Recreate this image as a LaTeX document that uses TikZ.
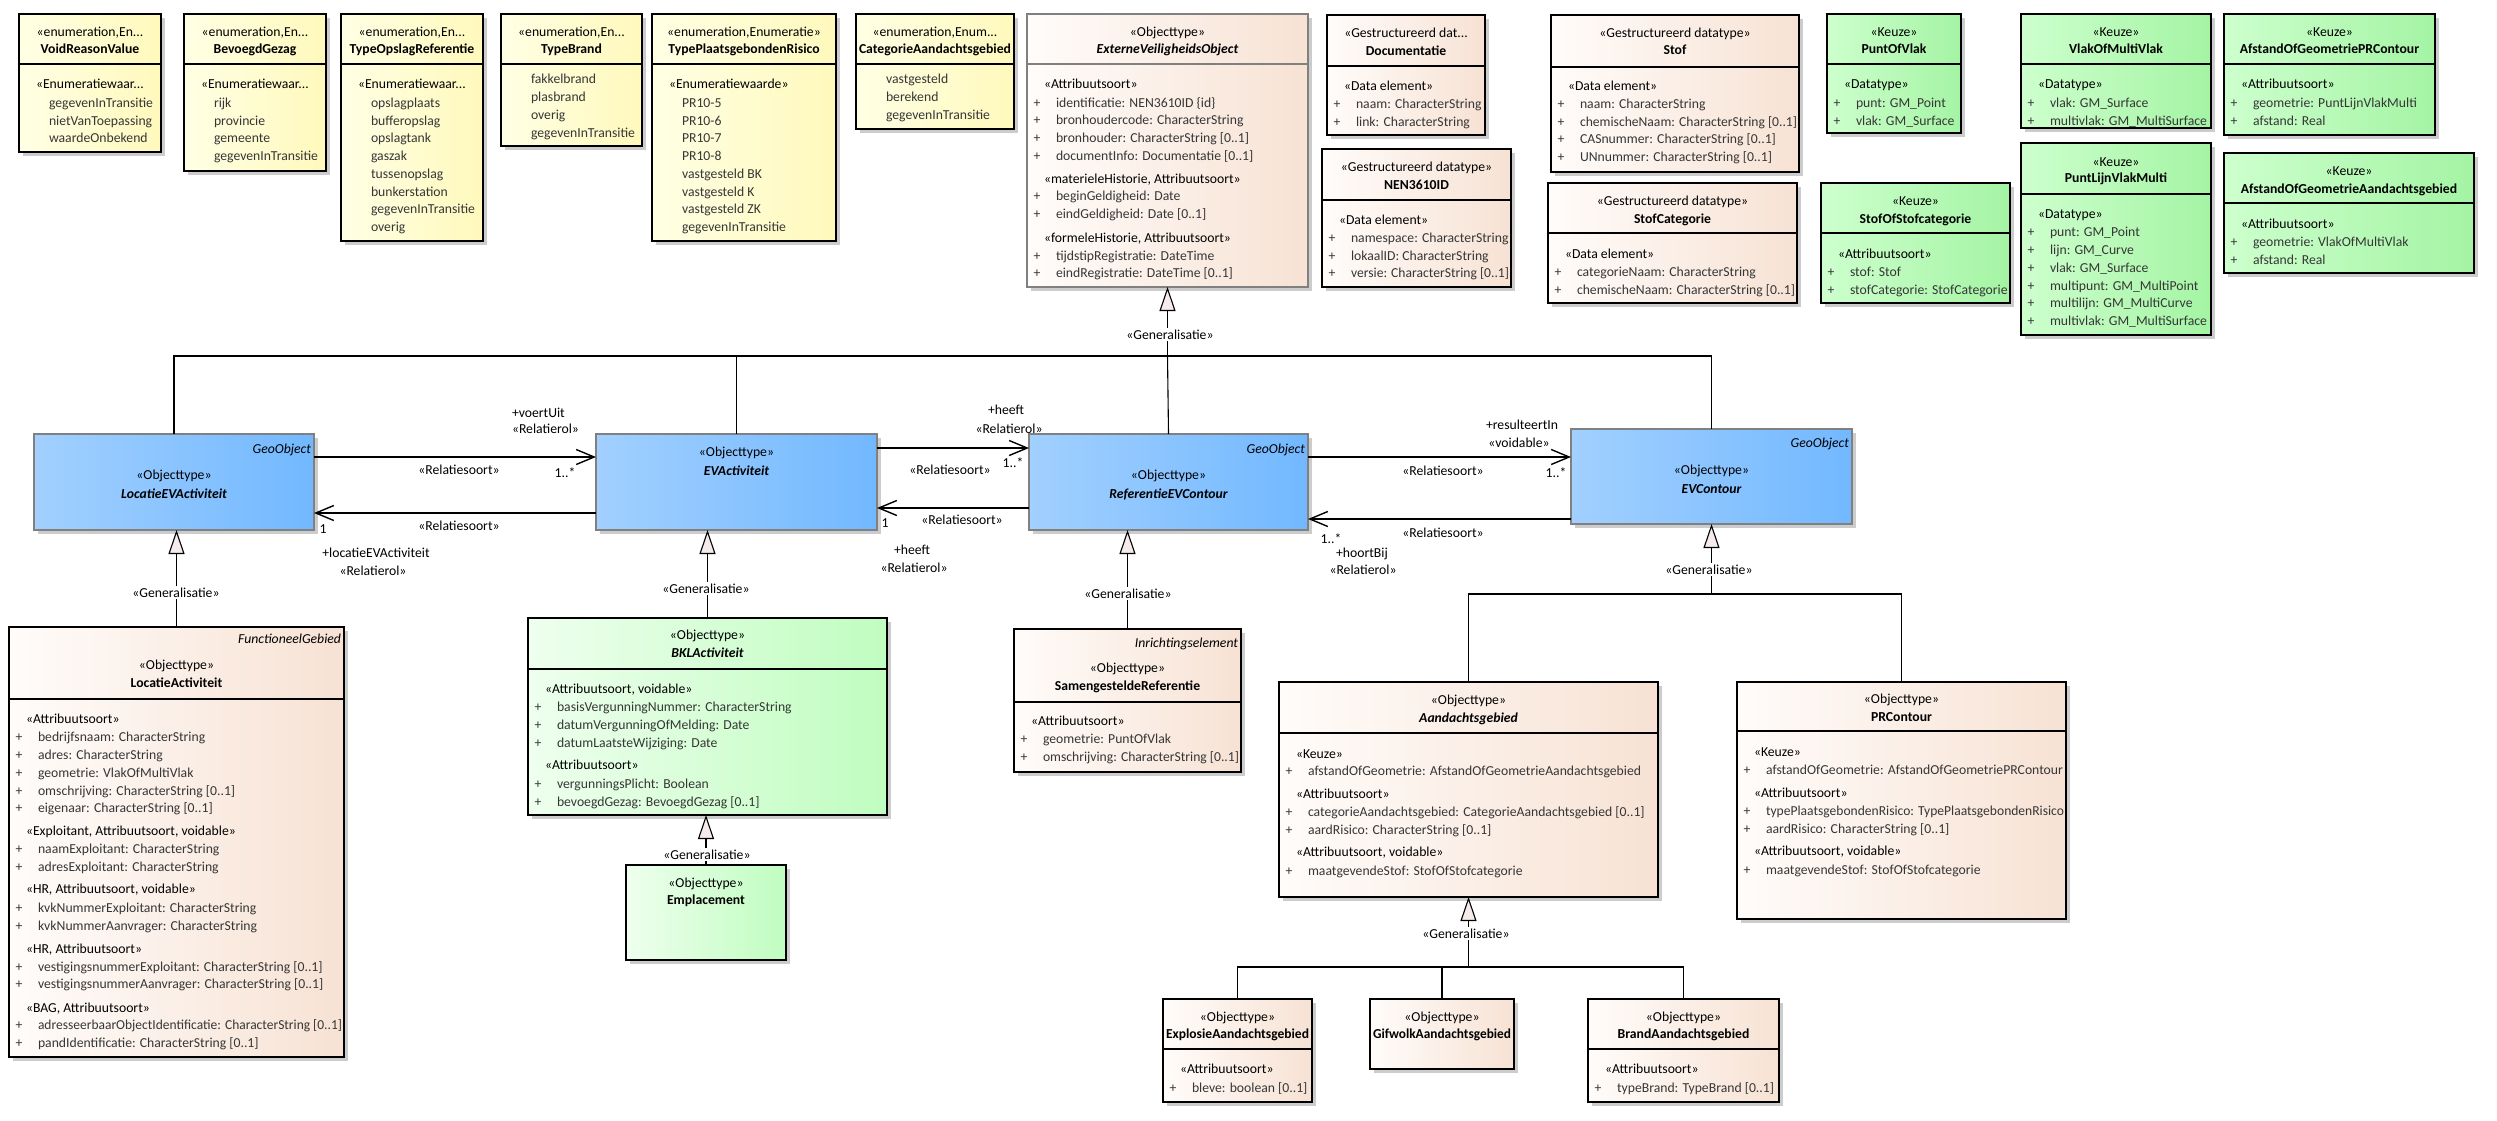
\documentclass[tikz,border=0pt]{standalone}
\usepackage{fontspec}
\setmainfont{Carlito}
\usepackage{graphicx}
\usetikzlibrary{arrows.meta,shadows}
\definecolor{enumL}{HTML}{FFFFE4}
\definecolor{enumR}{HTML}{FFF9BC}
\definecolor{dtL}{HTML}{FFFCFA}
\definecolor{dtR}{HTML}{F7E2D4}
\definecolor{keuL}{HTML}{CDFFCD}
\definecolor{keuR}{HTML}{A4F4A4}
\definecolor{bklL}{HTML}{EEFFEE}
\definecolor{bklR}{HTML}{C0FDC0}
\definecolor{bluL}{HTML}{A2D0FF}
\definecolor{bluR}{HTML}{72B8FF}
\definecolor{genfill}{HTML}{F5EBEB}
\definecolor{attrc}{HTML}{363636}
\newcommand\ufs{\fontsize{13.7}{16}\selectfont}
\newcounter{tn}
\newsavebox\ufitbox
\newcommand\ufit[2]{\sbox\ufitbox{#2}\ifdim\wd\ufitbox>#1\relax\resizebox{#1}{\height}{\usebox\ufitbox}\else\usebox\ufitbox\fi}
\newcommand\ubox[6]{\gdef\ubl{#3}\gdef\ubr{#5}%
  \pgfmathsetlengthmacro\uwid{#5-#3}\pgfmathsetlengthmacro\uhgt{#6-#4}%
  \node[#2, anchor=north west, minimum width=\uwid, minimum height=\uhgt] (#1) at (#3,#4) {};}
\newcommand\uhd[3][]{\pgfmathsetlengthmacro\uwmax{\ubr-\ubl-6}%
  \stepcounter{tn}\node[stx, anchor=base] (n\arabic{tn}) at ({(\ubl+\ubr)/2},#2+5) {\ufit{\uwmax}{#1#3}};}
\newcommand\utg[2]{\stepcounter{tn}\node[stx, anchor=base east] (n\arabic{tn}) at (\ubr-3,#1+5) {\itshape #2};}
\newcommand\ust[2]{\pgfmathsetlengthmacro\uwmax{\ubr-\ubl-19}%
  \stepcounter{tn}\node[stx, anchor=base west] (n\arabic{tn}) at (\ubl+17,#1+5) {\ufit{\uwmax}{#2}};}
\newcommand\uat[2]{\pgfmathsetlengthmacro\uwmax{\ubr-\ubl-31}%
  \stepcounter{tn}\node[atx, anchor=base] (n\arabic{tn}) at (\ubl+10,#1+5) {+};%
  \stepcounter{tn}\node[atx, anchor=base west] (n\arabic{tn}) at (\ubl+29,#1+5) {\ufit{\uwmax}{#2}};}
\newcommand\uit[2]{\pgfmathsetlengthmacro\uwmax{\ubr-\ubl-32}%
  \stepcounter{tn}\node[atx, anchor=base west] (n\arabic{tn}) at (\ubl+30,#1+5) {\ufit{\uwmax}{#2}};}
\newcommand\udv[2][black]{\draw[draw=#1, line width=1.5pt] (\ubl,#2) -- (\ubr,#2);}
\newcommand\ulb[4][]{\stepcounter{tn}\node[stx, anchor=base, #1] (n\arabic{tn}) at (#2,#3+5) {#4};}
\begin{document}
\begin{tikzpicture}[x=1pt, y=-1pt,
 ubase/.style={draw=black, line width=1.5pt, inner sep=0pt, outer sep=0pt,
   drop shadow={shadow xshift=4pt, shadow yshift=-4pt, fill=black!20, opacity=1}},
 enumbox/.style={ubase, left color=enumL, right color=enumR},
 dtbox/.style={ubase, left color=dtL, right color=dtR},
 absbox/.style={dtbox, draw=black!50},
 keuzebox/.style={ubase, left color=keuL, right color=keuR},
 bklbox/.style={ubase, left color=bklL, right color=bklR},
 bluebox/.style={ubase, draw=black!50, left color=bluL, right color=bluR},
 stx/.style={inner sep=0pt, outer sep=0pt, font=\ufs, text=black},
 atx/.style={stx, text=attrc},
 glab/.style={fill=white, inner sep=1.5pt},
 assoc/.style={line width=1.4pt, -{Straight Barb[length=18pt,width=15pt]}},
 gen/.style={line width=1.1pt, -{Triangle[length=24pt,width=16pt,fill=genfill]}},
 genl/.style={line width=1.1pt}]
\useasboundingbox[fill=white] (0,0) rectangle (2497,1120);

% ---------- enumerations ----------
\ubox{vrv}{enumbox}{19}{14}{161}{152}
\uhd{31}{«enumeration,En...}\uhd[\bfseries]{48}{VoidReasonValue}\udv{64}
\ust{83}{«Enumeratiewaar...}
\uit{102}{gegevenInTransitie}\uit{120}{nietVanToepassing}\uit{137}{waardeOnbekend}

\ubox{bg}{enumbox}{184}{14}{326}{171}
\uhd{31}{«enumeration,En...}\uhd[\bfseries]{48}{BevoegdGezag}\udv{64}
\ust{83}{«Enumeratiewaar...}
\uit{102}{rijk}\uit{120}{provincie}\uit{137}{gemeente}\uit{155}{gegevenInTransitie}

\ubox{tor}{enumbox}{341}{14}{483}{241}
\uhd{31}{«enumeration,En...}\uhd[\bfseries]{48}{TypeOpslagReferentie}\udv{64}
\ust{83}{«Enumeratiewaar...}
\uit{102}{opslagplaats}\uit{120}{bufferopslag}\uit{137}{opslagtank}\uit{155}{gaszak}
\uit{173}{tussenopslag}\uit{191}{bunkerstation}\uit{208}{gegevenInTransitie}\uit{226}{overig}

\ubox{tb}{enumbox}{501}{14}{642}{146}
\uhd{31}{«enumeration,En...}\uhd[\bfseries]{48}{TypeBrand}\udv{64}
\uit{78}{fakkelbrand}\uit{96}{plasbrand}\uit{114}{overig}\uit{132}{gegevenInTransitie}

\ubox{tpr}{enumbox}{652}{14}{836}{241}
\uhd{31}{«enumeration,Enumeratie»}\uhd[\bfseries]{48}{TypePlaatsgebondenRisico}\udv{64}
\ust{83}{«Enumeratiewaarde»}
\uit{102}{PR10-5}\uit{120}{PR10-6}\uit{137}{PR10-7}\uit{155}{PR10-8}
\uit{173}{vastgesteld BK}\uit{191}{vastgesteld K}\uit{208}{vastgesteld ZK}\uit{226}{gegevenInTransitie}

\ubox{cag}{enumbox}{856}{14}{1014}{129}
\uhd{31}{«enumeration,Enum...}\uhd[\bfseries]{48}{CategorieAandachtsgebied}\udv{64}
\uit{78}{vastgesteld}\uit{96}{berekend}\uit{114}{gegevenInTransitie}

% ---------- ExterneVeiligheidsObject ----------
\ubox{evo}{absbox}{1027}{14}{1308}{287}
\uhd{31}{«Objecttype»}\uhd[\bfseries\itshape]{48}{ExterneVeiligheidsObject}\udv[black!50]{64}
\ust{83}{«Attribuutsoort»}
\uat{102}{identificatie: NEN3610ID \{id\}}
\uat{119}{bronhoudercode: CharacterString}
\uat{137}{bronhouder: CharacterString [0..1]}
\uat{155}{documentInfo: Documentatie [0..1]}
\ust{178}{«materieleHistorie, Attribuutsoort»}
\uat{195}{beginGeldigheid: Date}
\uat{213}{eindGeldigheid: Date [0..1]}
\ust{237}{«formeleHistorie, Attribuutsoort»}
\uat{255}{tijdstipRegistratie: DateTime}
\uat{272}{eindRegistratie: DateTime [0..1]}

% ---------- datatypes ----------
\ubox{doc}{dtbox}{1327}{15}{1485}{135}
\uhd{32}{«Gestructureerd dat...}\uhd[\bfseries]{50}{Documentatie}\udv{66}
\ust{85}{«Data element»}
\uat{103}{naam: CharacterString}\uat{121}{link: CharacterString}

\ubox{nen}{dtbox}{1322}{149}{1511}{287}
\uhd{166}{«Gestructureerd datatype»}\uhd[\bfseries]{184}{NEN3610ID}\udv{200}
\ust{219}{«Data element»}
\uat{237}{namespace: CharacterString}\uat{255}{lokaalID: CharacterString}\uat{272}{versie: CharacterString [0..1]}

\ubox{stof}{dtbox}{1551}{15}{1799}{172}
\uhd{32}{«Gestructureerd datatype»}\uhd[\bfseries]{49}{Stof}\udv{67}
\ust{85}{«Data element»}
\uat{103}{naam: CharacterString}\uat{121}{chemischeNaam: CharacterString [0..1]}
\uat{138}{CASnummer: CharacterString [0..1]}\uat{156}{UNnummer: CharacterString [0..1]}

\ubox{stofcat}{dtbox}{1548}{183}{1797}{303}
\uhd{200}{«Gestructureerd datatype»}\uhd[\bfseries]{218}{StofCategorie}\udv{233}
\ust{253}{«Data element»}
\uat{271}{categorieNaam: CharacterString}\uat{289}{chemischeNaam: CharacterString [0..1]}

% ---------- keuze ----------
\ubox{pov}{keuzebox}{1827}{14}{1961}{133}
\uhd{31}{«Keuze»}\uhd[\bfseries]{48}{PuntOfVlak}\udv{64}
\ust{83}{«Datatype»}\uat{102}{punt: GM\_Point}\uat{120}{vlak: GM\_Surface}

\ubox{vomv}{keuzebox}{2021}{14}{2211}{128}
\uhd{31}{«Keuze»}\uhd[\bfseries]{48}{VlakOfMultiVlak}\udv{64}
\ust{83}{«Datatype»}\uat{102}{vlak: GM\_Surface}\uat{120}{multivlak: GM\_MultiSurface}

\ubox{aogpr}{keuzebox}{2224}{14}{2435}{135}
\uhd{31}{«Keuze»}\uhd[\bfseries]{48}{AfstandOfGeometriePRContour}\udv{64}
\ust{83}{«Attribuutsoort»}\uat{102}{geometrie: PuntLijnVlakMulti}\uat{120}{afstand: Real}

\ubox{sos}{keuzebox}{1821}{183}{2010}{303}
\uhd{200}{«Keuze»}\uhd[\bfseries]{218}{StofOfStofcategorie}\udv{233}
\ust{253}{«Attribuutsoort»}\uat{271}{stof: Stof}\uat{289}{stofCategorie: StofCategorie}

\ubox{plvm}{keuzebox}{2021}{143}{2211}{335}
\uhd{161}{«Keuze»}\uhd[\bfseries]{177}{PuntLijnVlakMulti}\udv{194}
\ust{213}{«Datatype»}
\uat{231}{punt: GM\_Point}\uat{249}{lijn: GM\_Curve}\uat{267}{vlak: GM\_Surface}
\uat{285}{multipunt: GM\_MultiPoint}\uat{302}{multilijn: GM\_MultiCurve}\uat{320}{multivlak: GM\_MultiSurface}

\ubox{aoga}{keuzebox}{2224}{153}{2474}{273}
\uhd{170}{«Keuze»}\uhd[\bfseries]{188}{AfstandOfGeometrieAandachtsgebied}\udv{203}
\ust{223}{«Attribuutsoort»}\uat{241}{geometrie: VlakOfMultiVlak}\uat{259}{afstand: Real}

% ---------- blue object types ----------
\ubox{locev}{bluebox}{34}{434}{314}{530}
\utg{448}{GeoObject}\uhd{474}{«Objecttype»}\uhd[\bfseries\itshape]{493}{LocatieEVActiviteit}

\ubox{evact}{bluebox}{596}{434}{877}{530}
\uhd{451}{«Objecttype»}\uhd[\bfseries\itshape]{470}{EVActiviteit}

\ubox{refev}{bluebox}{1029}{434}{1308}{530}
\utg{448}{GeoObject}\uhd{474}{«Objecttype»}\uhd[\bfseries\itshape]{493}{ReferentieEVContour}

\ubox{evc}{bluebox}{1571}{429}{1852}{524}
\utg{442}{GeoObject}\uhd{469}{«Objecttype»}\uhd[\bfseries\itshape]{488}{EVContour}

% ---------- LocatieActiviteit ----------
\ubox{locact}{dtbox}{9}{627}{344}{1057}
\utg{638}{FunctioneelGebied}\uhd{664}{«Objecttype»}\uhd[\bfseries]{682}{LocatieActiviteit}\udv{699}
\ust{718}{«Attribuutsoort»}
\uat{736}{bedrijfsnaam: CharacterString}
\uat{754}{adres: CharacterString}
\uat{772}{geometrie: VlakOfMultiVlak}
\uat{790}{omschrijving: CharacterString [0..1]}
\uat{807}{eigenaar: CharacterString [0..1]}
\ust{830}{«Exploitant, Attribuutsoort, voidable»}
\uat{848}{naamExploitant: CharacterString}
\uat{866}{adresExploitant: CharacterString}
\ust{888}{«HR, Attribuutsoort, voidable»}
\uat{907}{kvkNummerExploitant: CharacterString}
\uat{925}{kvkNummerAanvrager: CharacterString}
\ust{948}{«HR, Attribuutsoort»}
\uat{966}{vestigingsnummerExploitant: CharacterString [0..1]}
\uat{983}{vestigingsnummerAanvrager: CharacterString [0..1]}
\ust{1007}{«BAG, Attribuutsoort»}
\uat{1024}{adresseerbaarObjectIdentificatie: CharacterString [0..1]}
\uat{1042}{pandIdentificatie: CharacterString [0..1]}

% ---------- BKLActiviteit, Emplacement ----------
\ubox{bkl}{bklbox}{528}{618}{887}{815}
\uhd{634}{«Objecttype»}\uhd[\bfseries\itshape]{652}{BKLActiviteit}\udv{669}
\ust{688}{«Attribuutsoort, voidable»}
\uat{706}{basisVergunningNummer: CharacterString}
\uat{724}{datumVergunningOfMelding: Date}
\uat{742}{datumLaatsteWijziging: Date}
\ust{764}{«Attribuutsoort»}
\uat{783}{vergunningsPlicht: Boolean}
\uat{801}{bevoegdGezag: BevoegdGezag [0..1]}

\ubox{empl}{bklbox}{626}{865}{786}{960}
\uhd{882}{«Objecttype»}\uhd[\bfseries]{899}{Emplacement}

% ---------- SamengesteldeReferentie ----------
\ubox{samen}{dtbox}{1014}{629}{1241}{772}
\utg{642}{Inrichtingselement}\uhd{667}{«Objecttype»}\uhd[\bfseries]{685}{SamengesteldeReferentie}\udv{702}
\ust{720}{«Attribuutsoort»}
\uat{738}{geometrie: PuntOfVlak}\uat{756}{omschrijving: CharacterString [0..1]}

% ---------- Aandachtsgebied, PRContour ----------
\ubox{aand}{dtbox}{1279}{682}{1658}{897}
\uhd{699}{«Objecttype»}\uhd[\bfseries\itshape]{717}{Aandachtsgebied}\udv{733}
\ust{753}{«Keuze»}
\uat{770}{afstandOfGeometrie: AfstandOfGeometrieAandachtsgebied}
\ust{793}{«Attribuutsoort»}
\uat{811}{categorieAandachtsgebied: CategorieAandachtsgebied [0..1]}
\uat{829}{aardRisico: CharacterString [0..1]}
\ust{851}{«Attribuutsoort, voidable»}
\uat{870}{maatgevendeStof: StofOfStofcategorie}

\ubox{prc}{dtbox}{1737}{682}{2066}{919}
\uhd{698}{«Objecttype»}\uhd[\bfseries]{716}{PRContour}\udv{731}
\ust{751}{«Keuze»}
\uat{769}{afstandOfGeometrie: AfstandOfGeometriePRContour}
\ust{792}{«Attribuutsoort»}
\uat{810}{typePlaatsgebondenRisico: TypePlaatsgebondenRisico}
\uat{828}{aardRisico: CharacterString [0..1]}
\ust{850}{«Attribuutsoort, voidable»}
\uat{869}{maatgevendeStof: StofOfStofcategorie}

% ---------- subtypes of Aandachtsgebied ----------
\ubox{expl}{dtbox}{1163}{999}{1312}{1102}
\uhd{1016}{«Objecttype»}\uhd[\bfseries]{1033}{ExplosieAandachtsgebied}\udv{1049}
\ust{1068}{«Attribuutsoort»}\uat{1087}{bleve: boolean [0..1]}

\ubox{gif}{dtbox}{1370}{999}{1514}{1069}
\uhd{1016}{«Objecttype»}\uhd[\bfseries]{1033}{GifwolkAandachtsgebied}

\ubox{brand}{dtbox}{1588}{999}{1779}{1102}
\uhd{1016}{«Objecttype»}\uhd[\bfseries]{1033}{BrandAandachtsgebied}\udv{1049}
\ust{1068}{«Attribuutsoort»}\uat{1087}{typeBrand: TypeBrand [0..1]}

% ---------- generalisations ----------
\coordinate (j1) at (evo.south |- 0,356);
\draw[genl] (locev.north) |- (j1);
\draw[genl] (evact.north) |- (j1);
\draw[genl] (refev.north) -- (j1);
\draw[genl] (evc.north) |- (j1);
\draw[gen] (j1) -- (evo.south);
\ulb[glab]{1170}{334}{«Generalisatie»}

\draw[gen] (locact.north) -- (locact.north |- locev.south);
\ulb[glab]{176}{592}{«Generalisatie»}
\draw[gen] (bkl.north) -- (bkl.north |- evact.south);
\ulb[glab]{706}{588}{«Generalisatie»}
\draw[gen] (empl.north) -- (empl.north |- bkl.south);
\ulb[glab]{707}{854}{«Generalisatie»}
\draw[gen] (samen.north) -- (samen.north |- refev.south);
\ulb[glab]{1128}{593}{«Generalisatie»}

\coordinate (j2) at (evc.south |- 0,594);
\draw[genl] (aand.north) |- (j2);
\draw[genl] (prc.north) |- (j2);
\draw[gen] (j2) -- (evc.south);
\ulb[glab]{1709}{569}{«Generalisatie»}

\coordinate (j3) at (aand.south |- 0,967);
\draw[genl] (expl.north) |- (j3);
\draw[genl] (gif.north) |- (j3);
\draw[genl] (brand.north) |- (j3);
\draw[gen] (j3) -- (aand.south);
\ulb[glab]{1466}{933}{«Generalisatie»}

% ---------- associations ----------
\draw[assoc] ([yshift=-23pt]locev.north east) -- ([yshift=-23pt]evact.north west);
\ulb[anchor=base west]{512}{412}{+voertUit}
\ulb[anchor=base west]{512}{428}{«Relatierol»}
\ulb{459}{469}{«Relatiesoort»}
\ulb{565}{472}{1..*}

\draw[assoc] ([yshift=-79pt]evact.north west) -- ([yshift=-79pt]locev.north east);
\ulb{459}{525}{«Relatiesoort»}
\ulb{323}{528}{1}
\ulb{376}{552}{+locatieEVActiviteit}
\ulb{373}{570}{«Relatierol»}

\draw[assoc] ([yshift=-14pt]evact.north east) -- ([yshift=-14pt]refev.north west);
\ulb{1006}{409}{+heeft}
\ulb{1009}{428}{«Relatierol»}
\ulb{950}{469}{«Relatiesoort»}
\ulb{1013}{462}{1..*}

\draw[assoc] ([yshift=-74pt]refev.north west) -- ([yshift=-74pt]evact.north east);
\ulb{962}{519}{«Relatiesoort»}
\ulb{885}{522}{1}
\ulb{912}{549}{+heeft}
\ulb{914}{567}{«Relatierol»}

\draw[assoc] ([yshift=-23pt]refev.north east) -- ([yshift=-28pt]evc.north west);
\ulb{1522}{424}{+resulteertIn}
\ulb{1519}{442}{«voidable»}
\ulb{1443}{470}{«Relatiesoort»}
\ulb{1556}{472}{1..*}

\draw[assoc] ([yshift=-90pt]evc.north west) -- ([yshift=-85pt]refev.north east);
\ulb{1443}{532}{«Relatiesoort»}
\ulb{1331}{538}{1..*}
\ulb{1362}{552}{+hoortBij}
\ulb{1363}{569}{«Relatierol»}
\end{tikzpicture}
\end{document}
